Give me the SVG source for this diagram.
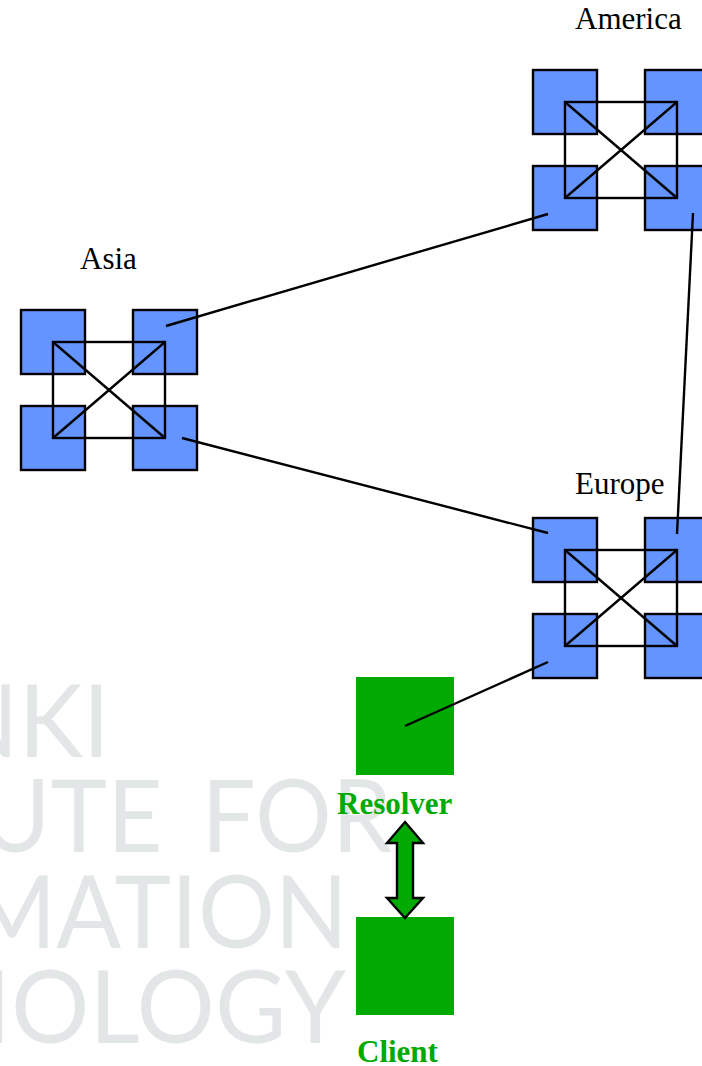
<svg xmlns="http://www.w3.org/2000/svg" xmlns:xlink="http://www.w3.org/1999/xlink" width="702" height="1066" viewBox="0 0 702 1066">
<style>
.wm{font-family:"Lato","Open Sans",sans-serif;font-weight:400;font-size:101px;fill:#e3e6e7;text-anchor:end}
.sq{fill:#6394ff;stroke:#000;stroke-width:2.4}
.ln{fill:none;stroke:#000;stroke-width:2.4}
.lbl{font-family:"Liberation Serif","Times New Roman",serif;font-size:31px;fill:#000}
.glbl{font-family:"Liberation Serif","Times New Roman",serif;font-size:31px;font-weight:bold;fill:#00aa00}
.gsq{fill:#00aa00}
</style>
<defs>
<g id="cluster">
<rect class="sq" x="-32" y="-32" width="64" height="64"/>
<rect class="sq" x="80" y="-32" width="64" height="64"/>
<rect class="sq" x="-32" y="64" width="64" height="64"/>
<rect class="sq" x="80" y="64" width="64" height="64"/>
<rect class="ln" x="0" y="0" width="112" height="96"/>
<line class="ln" x1="0" y1="0" x2="112" y2="96"/>
<line class="ln" x1="112" y1="0" x2="0" y2="96"/>
</g>
</defs>
<rect width="702" height="1066" fill="#fff"/>
<g id="watermark">
<text class="wm" transform="translate(110,757) scale(0.96,1)">NKI</text>
<text class="wm" transform="translate(392,852) scale(0.95,1)" word-spacing="15">UTE FOR</text>
<text class="wm" transform="translate(348,948) scale(0.95,1)">MATION</text>
<text class="wm" transform="translate(346,1043) scale(0.97,1)">NOLOGY</text>
</g>
<g id="asia"><use xlink:href="#cluster" transform="translate(53,342)"/><text class="lbl" x="80" y="269">Asia</text></g>
<g id="america"><use xlink:href="#cluster" transform="translate(565,102)"/><text class="lbl" x="575" y="29">America</text></g>
<g id="europe"><use xlink:href="#cluster" transform="translate(565,550)"/><text class="lbl" x="575" y="494">Europe</text></g>
<g id="resolver"><rect class="gsq" x="356" y="677" width="98" height="98"/><text class="glbl" x="337" y="814">Resolver</text></g>
<g id="client"><rect class="gsq" x="356" y="917" width="98" height="98"/><text class="glbl" x="357" y="1062">Client</text></g>
<g id="connectors">
<line class="ln" x1="166" y1="326" x2="548" y2="214"/>
<line class="ln" x1="182" y1="438" x2="548" y2="533"/>
<line class="ln" x1="693" y1="213" x2="677" y2="534"/>
<line class="ln" x1="548" y1="662" x2="405" y2="726"/>
<polygon points="405,822 423,843 413,843 413,898 423,898 405,918 387,898 397,898 397,843 387,843" fill="#00aa00" stroke="#000" stroke-width="2.4" stroke-linejoin="miter"/>
</g>
</svg>
